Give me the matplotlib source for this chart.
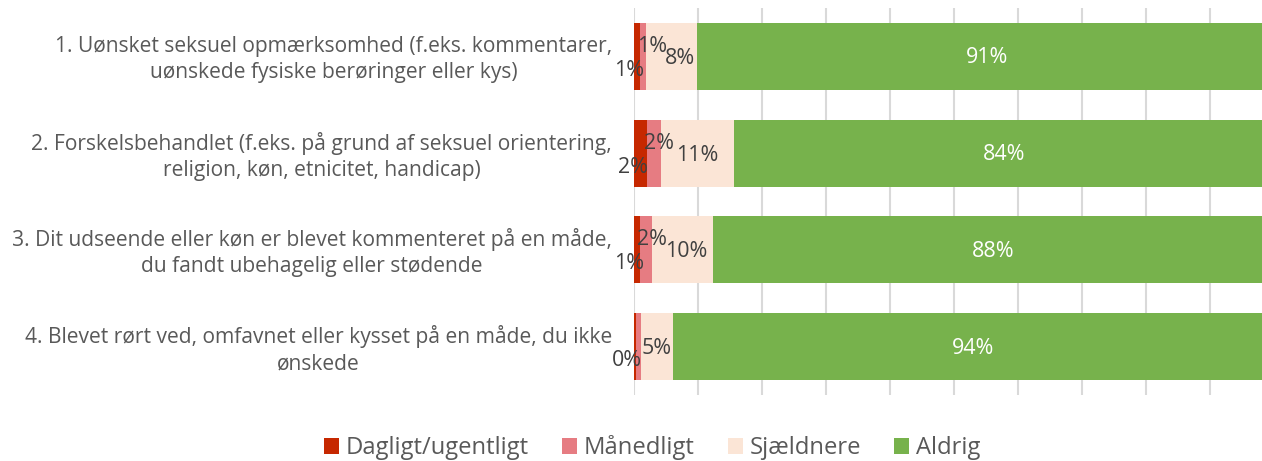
import matplotlib
matplotlib.use("Agg")
import matplotlib.pyplot as plt
from matplotlib.patches import Patch
from matplotlib.textpath import TextPath
from matplotlib.font_manager import FontProperties

categories = [
    "1. Uønsket seksuel opmærksomhed (f.eks. kommentarer,\nuønskede fysiske berøringer eller kys)",
    "2. Forskelsbehandlet (f.eks. på grund af seksuel orientering,\nreligion, køn, etnicitet, handicap)",
    "3. Dit udseende eller køn er blevet kommenteret på en måde,\ndu fandt ubehagelig eller stødende",
    "4. Blevet rørt ved, omfavnet eller kysset på en måde, du ikke\nønskede",
]
series_names = ["Dagligt/ugentligt", "Månedligt", "Sjældnere", "Aldrig"]
dagligt = [1.0, 2.1, 0.9, 0.3]
maanedligt = [0.9, 2.1, 1.9, 0.8]
sjaeldnere = [8.0, 11.4, 9.6, 5.0]
aldrig = [90.6, 84.4, 87.6, 93.9]
# labels shown in the source (False = label not shown)
show_labels = [
    [True, True, True, True],
    [True, True, True, True],
    [True, True, True, True],
    [True, False, True, True],
]

colors = ["#C62800", "#E67C82", "#FBE5D6", "#77B24C"]
text_gray = "#595959"
label_gray = "#404040"

FAMILY = 'Open Sans'
plt.rcParams['font.family'] = [FAMILY, 'DejaVu Sans']

W, H = 1262, 461
DPI = 100
PX_PER_PT = DPI / 72


def text_width_px(text, size):
    fp = FontProperties(family=FAMILY, size=size)
    return TextPath((0, 0), text, prop=fp).get_extents().width * PX_PER_PT


def fit_size(text, target_px):
    return 10 * target_px / text_width_px(text, 10)


fs_cat = fit_size("1. Uønsket seksuel opmærksomhed (f.eks. kommentarer,", 556)
fs_leg = fit_size("Dagligt/ugentligt", 180)
fs_lab = fit_size("91%", 40)

fig = plt.figure(figsize=(W / DPI, H / DPI), dpi=DPI)
ax_left_px, ax_width_px = 634, 640
ax = fig.add_axes([ax_left_px / W, 1 - 395 / H, ax_width_px / W, 387 / H])

series = [dagligt, maanedligt, sjaeldnere, aldrig]
n = len(categories)
ypos = list(range(n))
left = [0.0] * n
for s, vals in enumerate(series):
    ax.barh(ypos, vals, left=left, height=0.69, color=colors[s], zorder=3)
    left = [l + v for l, v in zip(left, vals)]

ax.set_xlim(0, 100)
ax.set_ylim(n - 0.5, -0.5)
ax.set_xticks(range(0, 101, 10))
ax.xaxis.grid(True, color="#D9D9D9", linewidth=1.5, zorder=0)
ax.set_xticklabels([])
ax.tick_params(axis='both', length=0)
ax.set_yticks([])
for sp in ax.spines.values():
    sp.set_visible(False)

# category labels
for i, cat in enumerate(categories):
    ax.annotate(cat, xy=(0, i), xycoords='data', xytext=(-22, -3),
                textcoords='offset pixels', ha='right', va='center',
                multialignment='center', fontsize=fs_cat, color=text_gray,
                linespacing=1.3)

# data labels (placement mimics the source's nudged labels)
px_per_unit = ax_width_px / 100.0
for i in range(n):
    vals = [series[s][i] for s in range(4)]
    starts = [sum(vals[:s]) for s in range(4)]
    pink_right_px = None
    for s in range(4):
        if not show_labels[i][s]:
            continue
        v = vals[s]
        txt = f"{round(v):d}%"
        col = "white" if s == 3 else label_gray
        w_px = text_width_px(txt, fs_lab)
        if s == 0:
            x, dx, dy, ha = starts[s] + v / 2, -8, -14, 'center'
        elif s == 1:
            x, dx, dy, ha = starts[s], -3, 10, 'left'
            pink_right_px = starts[s] * px_per_unit - 3 + w_px
        elif s == 2:
            x, dy, ha = starts[s] + v / 2, -2, 'center'
            cx_px = x * px_per_unit
            dx = 0
            if pink_right_px is not None and cx_px - w_px / 2 < pink_right_px + 2:
                dx = pink_right_px + 2 - (cx_px - w_px / 2)
        else:
            x, dx, dy, ha = starts[s] + v / 2, 0, -1.5, 'center'
        ax.annotate(txt, xy=(x, i), xytext=(dx, dy),
                    textcoords='offset pixels', ha=ha, va='center',
                    fontsize=fs_lab, color=col)

fs_px = fs_leg * PX_PER_PT
handles = [Patch(facecolor=c, edgecolor='none') for c in colors]
leg = fig.legend(handles, series_names, loc='center',
                 bbox_to_anchor=(652 / W, 1 - 448 / H), ncol=4, frameon=False,
                 fontsize=fs_leg, handlelength=15 / fs_px, handleheight=15 / fs_px,
                 handletextpad=7 / fs_px, columnspacing=33 / fs_px,
                 labelcolor=text_gray, borderpad=0)

fig.savefig("out.png", dpi=DPI)
